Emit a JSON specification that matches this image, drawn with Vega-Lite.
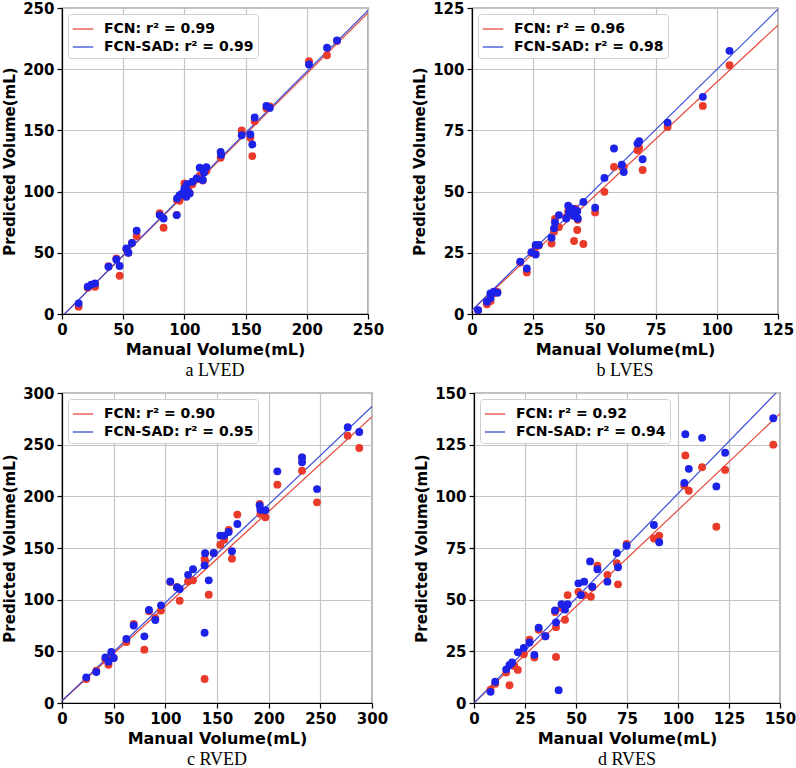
{
  "$schema": "https://vega.github.io/schema/vega-lite/v6.json",
  "background": "white",
  "padding": {"left": 2, "top": 0, "right": 0, "bottom": 0},
  "datasets": {
    "lns": [
      {"p": "a", "m": "FCN", "x": 0, "y": -2},
      {"p": "a", "m": "FCN", "x": 250, "y": 246},
      {"p": "a", "m": "FCN-SAD", "x": 0, "y": -2},
      {"p": "a", "m": "FCN-SAD", "x": 250, "y": 248},
      {"p": "b", "m": "FCN", "x": 0, "y": 1.5},
      {"p": "b", "m": "FCN", "x": 125, "y": 118},
      {"p": "b", "m": "FCN-SAD", "x": 0, "y": 1.5},
      {"p": "b", "m": "FCN-SAD", "x": 125, "y": 124.5},
      {"p": "c", "m": "FCN", "x": 0, "y": 2},
      {"p": "c", "m": "FCN", "x": 300, "y": 277},
      {"p": "c", "m": "FCN-SAD", "x": 0, "y": 2},
      {"p": "c", "m": "FCN-SAD", "x": 300, "y": 287},
      {"p": "d", "m": "FCN", "x": 0, "y": 0},
      {"p": "d", "m": "FCN", "x": 150, "y": 140},
      {"p": "d", "m": "FCN-SAD", "x": 0, "y": 0},
      {"p": "d", "m": "FCN-SAD", "x": 150, "y": 152}
    ],
    "pts": [
      {"p":"a","m":"FCN","x":13.6,"y":6},{"p":"a","m":"FCN-SAD","x":13.6,"y":8.7},
      {"p":"a","m":"FCN","x":21,"y":21.5},{"p":"a","m":"FCN-SAD","x":21,"y":22.3},
      {"p":"a","m":"FCN","x":24,"y":23.5},{"p":"a","m":"FCN-SAD","x":24,"y":24},
      {"p":"a","m":"FCN","x":27,"y":22.3},{"p":"a","m":"FCN-SAD","x":27,"y":25},
      {"p":"a","m":"FCN","x":38,"y":39},{"p":"a","m":"FCN-SAD","x":38,"y":38.6},
      {"p":"a","m":"FCN","x":44.4,"y":45.4},{"p":"a","m":"FCN-SAD","x":44.4,"y":44.6},
      {"p":"a","m":"FCN","x":47.1,"y":31.3},{"p":"a","m":"FCN-SAD","x":47.1,"y":39.2},
      {"p":"a","m":"FCN","x":52.6,"y":53},{"p":"a","m":"FCN-SAD","x":52.6,"y":53.5},
      {"p":"a","m":"FCN","x":54.2,"y":50},{"p":"a","m":"FCN-SAD","x":54.2,"y":50},
      {"p":"a","m":"FCN","x":57.2,"y":58},{"p":"a","m":"FCN-SAD","x":57.2,"y":58},
      {"p":"a","m":"FCN","x":61,"y":63.7},{"p":"a","m":"FCN-SAD","x":61,"y":68},
      {"p":"a","m":"FCN","x":79.8,"y":82.4},{"p":"a","m":"FCN-SAD","x":79.8,"y":80.8},
      {"p":"a","m":"FCN","x":83,"y":70.5},{"p":"a","m":"FCN-SAD","x":83,"y":78},
      {"p":"a","m":"FCN","x":93.7,"y":81},{"p":"a","m":"FCN-SAD","x":93.7,"y":80.8},
      {"p":"a","m":"FCN","x":94,"y":93},{"p":"a","m":"FCN-SAD","x":94,"y":94.4},
      {"p":"a","m":"FCN","x":96,"y":92.5},{"p":"a","m":"FCN-SAD","x":96,"y":97},
      {"p":"a","m":"FCN","x":98.3,"y":96},{"p":"a","m":"FCN-SAD","x":98.3,"y":98.5},
      {"p":"a","m":"FCN","x":100,"y":106.6},{"p":"a","m":"FCN-SAD","x":100,"y":102.5},
      {"p":"a","m":"FCN","x":101.6,"y":97},{"p":"a","m":"FCN-SAD","x":101.6,"y":95.7},
      {"p":"a","m":"FCN","x":103,"y":101},{"p":"a","m":"FCN-SAD","x":103,"y":100},
      {"p":"a","m":"FCN","x":104.3,"y":99},{"p":"a","m":"FCN-SAD","x":104.3,"y":98.5},
      {"p":"a","m":"FCN","x":102,"y":104},{"p":"a","m":"FCN-SAD","x":102,"y":106},
      {"p":"a","m":"FCN","x":106.5,"y":106},{"p":"a","m":"FCN-SAD","x":106.5,"y":108},
      {"p":"a","m":"FCN","x":110,"y":110},{"p":"a","m":"FCN-SAD","x":110,"y":110.7},
      {"p":"a","m":"FCN","x":112.5,"y":113},{"p":"a","m":"FCN-SAD","x":112.5,"y":119.5},
      {"p":"a","m":"FCN","x":115,"y":109},{"p":"a","m":"FCN-SAD","x":115,"y":109.5},
      {"p":"a","m":"FCN","x":116,"y":116},{"p":"a","m":"FCN-SAD","x":116,"y":115.5},
      {"p":"a","m":"FCN","x":118,"y":117},{"p":"a","m":"FCN-SAD","x":118,"y":120},
      {"p":"a","m":"FCN","x":129.6,"y":127.6},{"p":"a","m":"FCN-SAD","x":129.6,"y":132.5},
      {"p":"a","m":"FCN","x":130,"y":130},{"p":"a","m":"FCN-SAD","x":130,"y":130},
      {"p":"a","m":"FCN","x":146.8,"y":150},{"p":"a","m":"FCN-SAD","x":146.8,"y":146},
      {"p":"a","m":"FCN","x":153.9,"y":144},{"p":"a","m":"FCN-SAD","x":153.9,"y":146.6},
      {"p":"a","m":"FCN","x":155.5,"y":129},{"p":"a","m":"FCN-SAD","x":155.5,"y":138.5},
      {"p":"a","m":"FCN","x":157.4,"y":157.5},{"p":"a","m":"FCN-SAD","x":157.4,"y":160.5},
      {"p":"a","m":"FCN","x":167,"y":168},{"p":"a","m":"FCN-SAD","x":167,"y":170},
      {"p":"a","m":"FCN","x":169.7,"y":169.5},{"p":"a","m":"FCN-SAD","x":169.7,"y":168.4},
      {"p":"a","m":"FCN","x":201.8,"y":206.5},{"p":"a","m":"FCN-SAD","x":201.8,"y":203.8},
      {"p":"a","m":"FCN","x":216.5,"y":211.4},{"p":"a","m":"FCN-SAD","x":216.5,"y":217.6},
      {"p":"a","m":"FCN","x":224.7,"y":223},{"p":"a","m":"FCN-SAD","x":224.7,"y":223.5},

      {"p":"b","m":"FCN","x":2.5,"y":1.5},{"p":"b","m":"FCN-SAD","x":2.5,"y":1.6},
      {"p":"b","m":"FCN","x":6.1,"y":4},{"p":"b","m":"FCN-SAD","x":6.1,"y":5},
      {"p":"b","m":"FCN","x":7.6,"y":5.3},{"p":"b","m":"FCN-SAD","x":7.6,"y":6.5},
      {"p":"b","m":"FCN","x":7.5,"y":7.5},{"p":"b","m":"FCN-SAD","x":7.5,"y":8.4},
      {"p":"b","m":"FCN","x":8.9,"y":8.5},{"p":"b","m":"FCN-SAD","x":8.9,"y":9.1},
      {"p":"b","m":"FCN","x":10.4,"y":9},{"p":"b","m":"FCN-SAD","x":10.4,"y":8.7},
      {"p":"b","m":"FCN","x":19.7,"y":21},{"p":"b","m":"FCN-SAD","x":19.7,"y":21.4},
      {"p":"b","m":"FCN","x":22.4,"y":17},{"p":"b","m":"FCN-SAD","x":22.4,"y":18.6},
      {"p":"b","m":"FCN","x":24.3,"y":25},{"p":"b","m":"FCN-SAD","x":24.3,"y":25.2},
      {"p":"b","m":"FCN","x":26,"y":27.5},{"p":"b","m":"FCN-SAD","x":26,"y":28.2},
      {"p":"b","m":"FCN","x":26,"y":24.5},{"p":"b","m":"FCN-SAD","x":26,"y":24.3},
      {"p":"b","m":"FCN","x":27.3,"y":28},{"p":"b","m":"FCN-SAD","x":27.3,"y":28.2},
      {"p":"b","m":"FCN","x":32.5,"y":28.8},{"p":"b","m":"FCN-SAD","x":32.5,"y":31.1},
      {"p":"b","m":"FCN","x":33.5,"y":33.6},{"p":"b","m":"FCN-SAD","x":33.5,"y":35},
      {"p":"b","m":"FCN","x":33.9,"y":38.8},{"p":"b","m":"FCN-SAD","x":33.9,"y":37.4},
      {"p":"b","m":"FCN","x":35.5,"y":35.5},{"p":"b","m":"FCN-SAD","x":35.5,"y":40.4},
      {"p":"b","m":"FCN","x":38.5,"y":39.5},{"p":"b","m":"FCN-SAD","x":38.5,"y":39},
      {"p":"b","m":"FCN","x":39.3,"y":42},{"p":"b","m":"FCN-SAD","x":39.3,"y":44.2},
      {"p":"b","m":"FCN","x":39.6,"y":40.5},{"p":"b","m":"FCN-SAD","x":39.6,"y":41.5},
      {"p":"b","m":"FCN","x":41,"y":41},{"p":"b","m":"FCN-SAD","x":41,"y":43},
      {"p":"b","m":"FCN","x":41.7,"y":29.8},{"p":"b","m":"FCN-SAD","x":41.7,"y":40},
      {"p":"b","m":"FCN","x":42.3,"y":43},{"p":"b","m":"FCN-SAD","x":42.3,"y":42.4},
      {"p":"b","m":"FCN","x":43,"y":34.3},{"p":"b","m":"FCN-SAD","x":43,"y":42},
      {"p":"b","m":"FCN","x":43.2,"y":38.5},{"p":"b","m":"FCN-SAD","x":43.2,"y":39},
      {"p":"b","m":"FCN","x":45.5,"y":28.6},{"p":"b","m":"FCN-SAD","x":45.5,"y":45.8},
      {"p":"b","m":"FCN","x":50.3,"y":41.5},{"p":"b","m":"FCN-SAD","x":50.3,"y":43.4},
      {"p":"b","m":"FCN","x":54.1,"y":49.9},{"p":"b","m":"FCN-SAD","x":54.1,"y":55.6},
      {"p":"b","m":"FCN","x":58,"y":60.1},{"p":"b","m":"FCN-SAD","x":58,"y":67.6},
      {"p":"b","m":"FCN","x":61.2,"y":60},{"p":"b","m":"FCN-SAD","x":61.2,"y":61},
      {"p":"b","m":"FCN","x":62,"y":60},{"p":"b","m":"FCN-SAD","x":62,"y":58},
      {"p":"b","m":"FCN","x":67.6,"y":66.9},{"p":"b","m":"FCN-SAD","x":67.6,"y":69.6},
      {"p":"b","m":"FCN","x":68.3,"y":67.9},{"p":"b","m":"FCN-SAD","x":68.3,"y":70.6},
      {"p":"b","m":"FCN","x":69.7,"y":58.8},{"p":"b","m":"FCN-SAD","x":69.7,"y":63.2},
      {"p":"b","m":"FCN","x":79.9,"y":76.4},{"p":"b","m":"FCN-SAD","x":79.9,"y":78.2},
      {"p":"b","m":"FCN","x":94.3,"y":85},{"p":"b","m":"FCN-SAD","x":94.3,"y":88.7},
      {"p":"b","m":"FCN","x":105.2,"y":101.6},{"p":"b","m":"FCN-SAD","x":105.2,"y":107.5},

      {"p":"c","m":"FCN","x":23.5,"y":23.2},{"p":"c","m":"FCN-SAD","x":23.5,"y":24.8},
      {"p":"c","m":"FCN","x":33.2,"y":31.3},{"p":"c","m":"FCN-SAD","x":33.2,"y":30},
      {"p":"c","m":"FCN","x":42,"y":42},{"p":"c","m":"FCN-SAD","x":42,"y":44},
      {"p":"c","m":"FCN","x":45,"y":37},{"p":"c","m":"FCN-SAD","x":45,"y":40},
      {"p":"c","m":"FCN","x":47.7,"y":47},{"p":"c","m":"FCN-SAD","x":47.7,"y":49.4},
      {"p":"c","m":"FCN","x":50,"y":43.5},{"p":"c","m":"FCN-SAD","x":50,"y":43.5},
      {"p":"c","m":"FCN","x":62.3,"y":59},{"p":"c","m":"FCN-SAD","x":62.3,"y":62},
      {"p":"c","m":"FCN","x":69.4,"y":76.5},{"p":"c","m":"FCN-SAD","x":69.4,"y":75},
      {"p":"c","m":"FCN","x":79.7,"y":51.6},{"p":"c","m":"FCN-SAD","x":79.7,"y":64.5},
      {"p":"c","m":"FCN","x":84.2,"y":88.7},{"p":"c","m":"FCN-SAD","x":84.2,"y":90},
      {"p":"c","m":"FCN","x":90.3,"y":82},{"p":"c","m":"FCN-SAD","x":90.3,"y":80.3},
      {"p":"c","m":"FCN","x":95.8,"y":89.4},{"p":"c","m":"FCN-SAD","x":95.8,"y":94.5},
      {"p":"c","m":"FCN","x":104.8,"y":117},{"p":"c","m":"FCN-SAD","x":104.8,"y":117.7},
      {"p":"c","m":"FCN","x":111.3,"y":112},{"p":"c","m":"FCN-SAD","x":111.3,"y":112},
      {"p":"c","m":"FCN","x":113.9,"y":99},{"p":"c","m":"FCN-SAD","x":113.9,"y":110.3},
      {"p":"c","m":"FCN","x":122,"y":117.7},{"p":"c","m":"FCN-SAD","x":122,"y":124},
      {"p":"c","m":"FCN","x":126.8,"y":118.7},{"p":"c","m":"FCN-SAD","x":126.8,"y":129.4},
      {"p":"c","m":"FCN","x":138,"y":139.4},{"p":"c","m":"FCN-SAD","x":138,"y":133.2},
      {"p":"c","m":"FCN","x":138.5,"y":137},{"p":"c","m":"FCN-SAD","x":138.5,"y":145},
      {"p":"c","m":"FCN","x":138,"y":23.2},{"p":"c","m":"FCN-SAD","x":138,"y":68},
      {"p":"c","m":"FCN","x":142,"y":104.8},{"p":"c","m":"FCN-SAD","x":142,"y":118.7},
      {"p":"c","m":"FCN","x":146.8,"y":145},{"p":"c","m":"FCN-SAD","x":146.8,"y":145.2},
      {"p":"c","m":"FCN","x":153.2,"y":153.2},{"p":"c","m":"FCN-SAD","x":153.2,"y":162},
      {"p":"c","m":"FCN","x":157,"y":158},{"p":"c","m":"FCN-SAD","x":157,"y":162},
      {"p":"c","m":"FCN","x":161.3,"y":167.4},{"p":"c","m":"FCN-SAD","x":161.3,"y":165.5},
      {"p":"c","m":"FCN","x":164.5,"y":139.7},{"p":"c","m":"FCN-SAD","x":164.5,"y":146.8},
      {"p":"c","m":"FCN","x":169.7,"y":182.3},{"p":"c","m":"FCN-SAD","x":169.7,"y":173.2},
      {"p":"c","m":"FCN","x":191.3,"y":192.6},{"p":"c","m":"FCN-SAD","x":191.3,"y":191.3},
      {"p":"c","m":"FCN","x":192,"y":183},{"p":"c","m":"FCN-SAD","x":192,"y":187},
      {"p":"c","m":"FCN","x":196.8,"y":179.7},{"p":"c","m":"FCN-SAD","x":196.8,"y":186.5},
      {"p":"c","m":"FCN","x":208.4,"y":211.3},{"p":"c","m":"FCN-SAD","x":208.4,"y":224.2},
      {"p":"c","m":"FCN","x":232.3,"y":237.7},{"p":"c","m":"FCN-SAD","x":232.3,"y":237.7},
      {"p":"c","m":"FCN","x":232.3,"y":224.8},{"p":"c","m":"FCN-SAD","x":232.3,"y":233},
      {"p":"c","m":"FCN","x":246.8,"y":194.2},{"p":"c","m":"FCN-SAD","x":246.8,"y":207},
      {"p":"c","m":"FCN","x":276.5,"y":258.7},{"p":"c","m":"FCN-SAD","x":276.5,"y":266.8},
      {"p":"c","m":"FCN","x":287.7,"y":246.8},{"p":"c","m":"FCN-SAD","x":287.7,"y":262.3},

      {"p":"d","m":"FCN","x":8.1,"y":6.5},{"p":"d","m":"FCN-SAD","x":8.1,"y":5.4},
      {"p":"d","m":"FCN","x":10.4,"y":9.3},{"p":"d","m":"FCN-SAD","x":10.4,"y":10.3},
      {"p":"d","m":"FCN","x":15.8,"y":14.7},{"p":"d","m":"FCN-SAD","x":15.8,"y":16.3},
      {"p":"d","m":"FCN","x":17.4,"y":8.6},{"p":"d","m":"FCN-SAD","x":17.4,"y":18.4},
      {"p":"d","m":"FCN","x":19.8,"y":17.9},{"p":"d","m":"FCN-SAD","x":18.7,"y":19.6},
      {"p":"d","m":"FCN","x":21.5,"y":16},{"p":"d","m":"FCN-SAD","x":21.5,"y":24.5},
      {"p":"d","m":"FCN","x":24.4,"y":23.6},{"p":"d","m":"FCN-SAD","x":24.4,"y":26.6},
      {"p":"d","m":"FCN","x":27.2,"y":30.6},{"p":"d","m":"FCN-SAD","x":27.2,"y":29.3},
      {"p":"d","m":"FCN","x":29.6,"y":22},{"p":"d","m":"FCN-SAD","x":29.6,"y":23.3},
      {"p":"d","m":"FCN","x":31.7,"y":35.4},{"p":"d","m":"FCN-SAD","x":31.7,"y":36.4},
      {"p":"d","m":"FCN","x":35,"y":32.3},{"p":"d","m":"FCN-SAD","x":35,"y":32.3},
      {"p":"d","m":"FCN","x":39.7,"y":44},{"p":"d","m":"FCN-SAD","x":39.7,"y":44.8},
      {"p":"d","m":"FCN","x":40.2,"y":36.7},{"p":"d","m":"FCN-SAD","x":40.2,"y":39},
      {"p":"d","m":"FCN","x":40.2,"y":22.3},{"p":"d","m":"FCN-SAD","x":41.5,"y":6.2},
      {"p":"d","m":"FCN","x":42.9,"y":46},{"p":"d","m":"FCN-SAD","x":42.9,"y":47.8},
      {"p":"d","m":"FCN","x":44.6,"y":40.3},{"p":"d","m":"FCN-SAD","x":44.6,"y":45.2},
      {"p":"d","m":"FCN","x":45.9,"y":52.2},{"p":"d","m":"FCN-SAD","x":45.9,"y":47.8},
      {"p":"d","m":"FCN","x":51.2,"y":53.8},{"p":"d","m":"FCN-SAD","x":51.2,"y":57.9},
      {"p":"d","m":"FCN","x":52.4,"y":52.2},{"p":"d","m":"FCN-SAD","x":52.4,"y":52.2},
      {"p":"d","m":"FCN","x":54,"y":52.2},{"p":"d","m":"FCN-SAD","x":54,"y":58.7},
      {"p":"d","m":"FCN","x":57.3,"y":51.4},{"p":"d","m":"FCN-SAD","x":56.9,"y":68.5},
      {"p":"d","m":"FCN","x":58,"y":56},{"p":"d","m":"FCN-SAD","x":58,"y":56.3},
      {"p":"d","m":"FCN","x":60.5,"y":66.4},{"p":"d","m":"FCN-SAD","x":60.5,"y":64.7},
      {"p":"d","m":"FCN","x":65.4,"y":62},{"p":"d","m":"FCN-SAD","x":65.4,"y":58.7},
      {"p":"d","m":"FCN","x":70,"y":67.7},{"p":"d","m":"FCN-SAD","x":70,"y":72.6},
      {"p":"d","m":"FCN","x":70.6,"y":57.4},{"p":"d","m":"FCN-SAD","x":70.6,"y":65.7},
      {"p":"d","m":"FCN","x":74.8,"y":77},{"p":"d","m":"FCN-SAD","x":74.8,"y":76.1},
      {"p":"d","m":"FCN","x":88.2,"y":79.6},{"p":"d","m":"FCN-SAD","x":88.2,"y":86.1},
      {"p":"d","m":"FCN","x":90.8,"y":81},{"p":"d","m":"FCN-SAD","x":90.8,"y":77.8},
      {"p":"d","m":"FCN","x":103.1,"y":105.2},{"p":"d","m":"FCN-SAD","x":103.1,"y":106.5},
      {"p":"d","m":"FCN","x":103.6,"y":119.8},{"p":"d","m":"FCN-SAD","x":103.6,"y":130.1},
      {"p":"d","m":"FCN","x":105.3,"y":102.7},{"p":"d","m":"FCN-SAD","x":105.3,"y":113.3},
      {"p":"d","m":"FCN","x":111.8,"y":114.1},{"p":"d","m":"FCN-SAD","x":111.8,"y":128.3},
      {"p":"d","m":"FCN","x":118.8,"y":85.3},{"p":"d","m":"FCN-SAD","x":118.8,"y":104.8},
      {"p":"d","m":"FCN","x":123.1,"y":112.8},{"p":"d","m":"FCN-SAD","x":123.1,"y":121.1},
      {"p":"d","m":"FCN","x":146.7,"y":125},{"p":"d","m":"FCN-SAD","x":146.7,"y":137.8}
    ]
  },
  "vconcat": [
    {
      "hconcat": [
        {
          "width": 306, "height": 306,
          "title": {"text": "a LVED"},
          "layer": [
            {
              "data": {"name": "lns"},
              "transform": [{"filter": "datum.p == 'a'"}],
              "mark": {"type": "line", "clip": true, "strokeWidth": 1.2},
              "encoding": {
                "x": {"field": "x", "type": "quantitative", "scale": {"domain": [0, 250], "nice": false}, "axis": {"values": [0, 50, 100, 150, 200, 250], "title": "Manual Volume(mL)"}},
                "y": {"field": "y", "type": "quantitative", "scale": {"domain": [0, 250], "nice": false}, "axis": {"values": [0, 50, 100, 150, 200, 250], "title": "Predicted Volume(mL)"}},
                "color": {"field": "m", "type": "nominal", "scale": {"domain": ["FCN", "FCN-SAD"], "range": ["#e5483b", "#3a4bd6"]}, "legend": {"labelExpr": "datum.label == 'FCN' ? 'FCN: r² = 0.99' : 'FCN-SAD: r² = 0.99'"}}
              }
            },
            {
              "data": {"name": "pts"},
              "transform": [{"filter": "datum.p == 'a'"}],
              "mark": {"type": "circle", "size": 62, "opacity": 1},
              "encoding": {
                "x": {"field": "x", "type": "quantitative"},
                "y": {"field": "y", "type": "quantitative"},
                "fill": {"field": "m", "type": "nominal", "scale": {"domain": ["FCN", "FCN-SAD"], "range": ["#ea3a2a", "#1c22e8"]}, "legend": null},
                "order": {"field": "m"}
              }
            }
          ]
        },
        {
          "width": 306, "height": 306,
          "title": {"text": "b LVES"},
          "layer": [
            {
              "data": {"name": "lns"},
              "transform": [{"filter": "datum.p == 'b'"}],
              "mark": {"type": "line", "clip": true, "strokeWidth": 1.2},
              "encoding": {
                "x": {"field": "x", "type": "quantitative", "scale": {"domain": [0, 125], "nice": false}, "axis": {"values": [0, 25, 50, 75, 100, 125], "title": "Manual Volume(mL)"}},
                "y": {"field": "y", "type": "quantitative", "scale": {"domain": [0, 125], "nice": false}, "axis": {"values": [0, 25, 50, 75, 100, 125], "title": "Predicted Volume(mL)"}},
                "color": {"field": "m", "type": "nominal", "scale": {"domain": ["FCN", "FCN-SAD"], "range": ["#e5483b", "#3a4bd6"]}, "legend": {"labelExpr": "datum.label == 'FCN' ? 'FCN: r² = 0.96' : 'FCN-SAD: r² = 0.98'"}}
              }
            },
            {
              "data": {"name": "pts"},
              "transform": [{"filter": "datum.p == 'b'"}],
              "mark": {"type": "circle", "size": 62, "opacity": 1},
              "encoding": {
                "x": {"field": "x", "type": "quantitative"},
                "y": {"field": "y", "type": "quantitative"},
                "fill": {"field": "m", "type": "nominal", "scale": {"domain": ["FCN", "FCN-SAD"], "range": ["#ea3a2a", "#1c22e8"]}, "legend": null},
                "order": {"field": "m"}
              }
            }
          ]
        }
      ],
      "spacing": 27,
      "resolve": {"scale": {"x": "independent", "y": "independent", "color": "independent", "fill": "independent"}, "legend": {"color": "independent"}}
    },
    {
      "hconcat": [
        {
          "width": 310, "height": 310,
          "title": {"text": "c RVED"},
          "layer": [
            {
              "data": {"name": "lns"},
              "transform": [{"filter": "datum.p == 'c'"}],
              "mark": {"type": "line", "clip": true, "strokeWidth": 1.2},
              "encoding": {
                "x": {"field": "x", "type": "quantitative", "scale": {"domain": [0, 300], "nice": false}, "axis": {"values": [0, 50, 100, 150, 200, 250, 300], "title": "Manual Volume(mL)"}},
                "y": {"field": "y", "type": "quantitative", "scale": {"domain": [0, 300], "nice": false}, "axis": {"values": [0, 50, 100, 150, 200, 250, 300], "title": "Predicted Volume(mL)"}},
                "color": {"field": "m", "type": "nominal", "scale": {"domain": ["FCN", "FCN-SAD"], "range": ["#e5483b", "#3a4bd6"]}, "legend": {"labelExpr": "datum.label == 'FCN' ? 'FCN: r² = 0.90' : 'FCN-SAD: r² = 0.95'"}}
              }
            },
            {
              "data": {"name": "pts"},
              "transform": [{"filter": "datum.p == 'c'"}],
              "mark": {"type": "circle", "size": 62, "opacity": 1},
              "encoding": {
                "x": {"field": "x", "type": "quantitative"},
                "y": {"field": "y", "type": "quantitative"},
                "fill": {"field": "m", "type": "nominal", "scale": {"domain": ["FCN", "FCN-SAD"], "range": ["#ea3a2a", "#1c22e8"]}, "legend": null},
                "order": {"field": "m"}
              }
            }
          ]
        },
        {
          "width": 306, "height": 310,
          "title": {"text": "d RVES"},
          "layer": [
            {
              "data": {"name": "lns"},
              "transform": [{"filter": "datum.p == 'd'"}],
              "mark": {"type": "line", "clip": true, "strokeWidth": 1.2},
              "encoding": {
                "x": {"field": "x", "type": "quantitative", "scale": {"domain": [0, 150], "nice": false}, "axis": {"values": [0, 25, 50, 75, 100, 125, 150], "title": "Manual Volume(mL)"}},
                "y": {"field": "y", "type": "quantitative", "scale": {"domain": [0, 150], "nice": false}, "axis": {"values": [0, 25, 50, 75, 100, 125, 150], "title": "Predicted Volume(mL)"}},
                "color": {"field": "m", "type": "nominal", "scale": {"domain": ["FCN", "FCN-SAD"], "range": ["#e5483b", "#3a4bd6"]}, "legend": {"labelExpr": "datum.label == 'FCN' ? 'FCN: r² = 0.92' : 'FCN-SAD: r² = 0.94'"}}
              }
            },
            {
              "data": {"name": "pts"},
              "transform": [{"filter": "datum.p == 'd'"}],
              "mark": {"type": "circle", "size": 62, "opacity": 1},
              "encoding": {
                "x": {"field": "x", "type": "quantitative"},
                "y": {"field": "y", "type": "quantitative"},
                "fill": {"field": "m", "type": "nominal", "scale": {"domain": ["FCN", "FCN-SAD"], "range": ["#ea3a2a", "#1c22e8"]}, "legend": null},
                "order": {"field": "m"}
              }
            }
          ]
        }
      ],
      "spacing": 25,
      "resolve": {"scale": {"x": "independent", "y": "independent", "color": "independent", "fill": "independent"}, "legend": {"color": "independent"}}
    }
  ],
  "spacing": 4,
  "resolve": {"scale": {"x": "independent", "y": "independent", "color": "independent", "fill": "independent"}, "legend": {"color": "independent"}},
  "config": {
    "view": {"stroke": "black", "strokeWidth": 1.2},
    "axis": {
      "labelFont": "DejaVu Sans", "labelFontWeight": "bold", "labelFontSize": 15, "labelColor": "black",
      "titleFont": "DejaVu Sans", "titleFontWeight": "bold", "titleFontSize": 15, "titleColor": "black",
      "domainColor": "black", "domainWidth": 1.2, "tickColor": "black", "tickSize": 5, "tickWidth": 1.2,
      "gridColor": "#c4c4c4", "gridWidth": 1.2, "labelPadding": 3, "titlePadding": 5, "labelFlush": false, "labelOverlap": false
    },
    "axisX": {"titleFontSize": 16, "titlePadding": 4},
    "legend": {
      "orient": "top-left", "offset": 6, "title": null,
      "symbolType": "stroke", "symbolSize": 420, "symbolStrokeWidth": 1.3,
      "labelFont": "DejaVu Sans", "labelFontWeight": "bold", "labelFontSize": 14, "labelColor": "black", "labelOffset": 10,
      "strokeColor": "#d0d0d0", "fillColor": "white", "padding": 4, "cornerRadius": 3, "rowPadding": 0
    },
    "title": {"orient": "bottom", "font": "Liberation Serif", "fontSize": 18, "fontWeight": "normal", "color": "black", "offset": 5, "anchor": "middle"}
  }
}
